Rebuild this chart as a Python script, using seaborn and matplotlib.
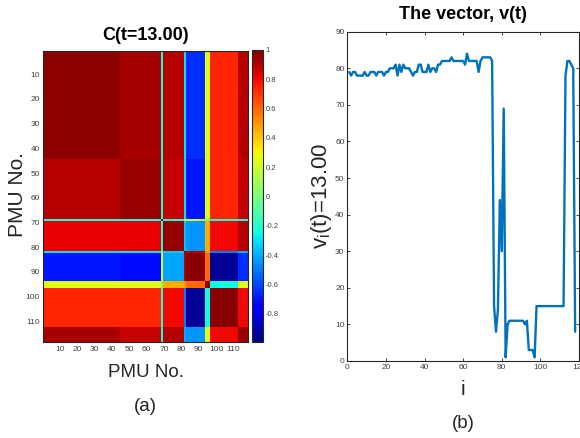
import numpy as np
import pandas as pd
import matplotlib
matplotlib.use("Agg")
import matplotlib.pyplot as plt
import seaborn as sns

# ---- data -------------------------------------------------------------
# PMU groups (sizes in PMU order 1..118) and the correlation between groups
group_labels = ["1-44", "45-68", "69", "70-81", "82", "83-93", "94-96", "97-112", "113-118"]
group_sizes = [44, 24, 1, 12, 1, 11, 3, 16, 6]
block_corr = [
    [0.97, 0.93, -0.24, 0.90, -0.30, -0.65, 0.25, 0.74, 0.90],
    [0.90, 0.95, -0.24, 0.88, -0.30, -0.70, 0.25, 0.74, 0.88],
    [-0.24, -0.24, 1.00, -0.24, 0.20, 0.20, 0.00, -0.24, -0.24],
    [0.82, 0.82, -0.24, 0.96, -0.35, -0.45, 0.45, 0.80, 0.90],
    [-0.30, -0.30, 0.20, -0.35, 1.00, 0.90, 0.50, -0.50, -0.40],
    [-0.70, -0.72, 0.20, -0.42, 0.90, 0.98, 0.60, -0.95, -0.65],
    [0.25, 0.25, 0.00, 0.45, 0.50, 0.60, 0.98, -0.25, 0.25],
    [0.74, 0.74, -0.24, 0.80, -0.50, -0.95, -0.25, 0.98, 0.80],
    [0.93, 0.88, -0.24, 0.90, -0.40, -0.45, 0.25, 0.80, 0.95],
]

# v_i(t) at t = 13.00, one value per PMU
v_values = [79, 78, 79, 79, 78, 78, 78, 78, 79, 78,
            78, 79, 79, 79, 78, 79, 79, 79, 78, 79,
            79, 80, 80, 80, 81, 78, 81, 79, 81, 80,
            80, 80, 79, 78, 79, 79, 81, 81, 79, 79,
            79, 81, 79, 80, 80, 79, 81, 81, 82, 82,
            82, 82, 82, 83, 82, 82, 82, 82, 82, 82,
            81, 84, 82, 82, 82, 82, 82, 79, 82, 83,
            83, 83, 83, 83, 82, 15, 8, 14, 44, 30,
            69, 1, 10, 11, 11, 11, 11, 11, 11, 11,
            11, 10, 11, 3, 3, 3, 1, 15, 15, 15,
            15, 15, 15, 15, 15, 15, 15, 15, 15, 15,
            15, 15, 78, 82, 82, 81, 80, 8]

heat_ticks = [10, 20, 30, 40, 50, 60, 70, 80, 90, 100, 110]
cbar_ticks = [-0.8, -0.6, -0.4, -0.2, 0, 0.2, 0.4, 0.6, 0.8, 1]
line_xticks = [0, 20, 40, 60, 80, 100, 120]
line_yticks = [0, 10, 20, 30, 40, 50, 60, 70, 80, 90]

# ---- build matrix -----------------------------------------------------
pmu = np.arange(1, 119)
member = np.repeat(np.arange(len(group_sizes)), group_sizes)
corr = np.array(block_corr)[member][:, member]
corr_df = pd.DataFrame(corr, index=pmu, columns=pmu)

# ---- style ------------------------------------------------------------
sns.set_theme(style="ticks")
plt.rcParams["font.family"] = ["Liberation Sans", "DejaVu Sans"]
tick_col = "#404040"
text_col = "#262626"

fig = plt.figure(figsize=(5.8, 4.38), dpi=100)
ax1 = fig.add_axes([0.0747, 0.2185, 0.3534, 0.6658])
cax = fig.add_axes([0.435, 0.2199, 0.019, 0.666])
ax2 = fig.add_axes([0.5988, 0.1758, 0.3995, 0.7518])

# ---- (a) correlation heatmap -----------------------------------------
sns.heatmap(corr_df, ax=ax1, cmap="jet", vmin=-0.99, vmax=1,
            cbar_ax=cax, xticklabels=False, yticklabels=False, linewidths=0)
ax1.set_xticks(np.array(heat_ticks) - 0.5)
ax1.set_xticklabels([str(t) for t in heat_ticks])
ax1.set_yticks(np.array(heat_ticks) - 0.5)
ax1.set_yticklabels([str(t) for t in heat_ticks], rotation=0)
ax1.set_xlabel("")
ax1.set_ylabel("")
for s in ax1.spines.values():
    s.set_visible(True)
    s.set_color("#262626")
    s.set_linewidth(0.8)
ax1.tick_params(direction="in", length=2.5, width=0.6, labelsize=6,
                top=True, right=True, colors="#262626", labelcolor=tick_col, pad=2.5)
ax1.set_title("C(t=13.00)", fontsize=13, fontweight="bold", color="black", pad=8)

cbar = ax1.collections[0].colorbar
cbar.set_ticks(cbar_ticks)
cbar.set_ticklabels(["%g" % t for t in cbar_ticks])
cbar.outline.set_edgecolor("#262626")
cbar.outline.set_linewidth(0.8)
cax.tick_params(direction="in", length=2, width=0.6, labelsize=5.5,
                colors="#262626", labelcolor=tick_col, pad=1.5)

fig.text(0.2517, 0.149, "PMU No.", fontsize=13.5, color=text_col, ha="center", va="center")
fig.text(0.031, 0.555, "PMU No.", fontsize=15, color=text_col, ha="center", va="center",
         rotation=90)
fig.text(0.25, 0.0715, "(a)", fontsize=13.5, color=text_col, ha="center", va="center")

# ---- (b) vector v(t) ---------------------------------------------------
sns.lineplot(x=pmu, y=v_values, ax=ax2, color="#0072BD", linewidth=1.7)
ax2.set_xlim(0, 120)
ax2.set_ylim(0, 90)
ax2.set_xticks(line_xticks)
ax2.set_yticks(line_yticks)
ax2.set_xlabel("")
ax2.set_ylabel("")
for s in ax2.spines.values():
    s.set_visible(True)
    s.set_color("#262626")
    s.set_linewidth(0.8)
ax2.tick_params(direction="in", length=2.5, width=0.6, labelsize=6,
                top=True, right=True, colors="#262626", labelcolor=tick_col, pad=2)
ax2.set_title("The vector, v(t)", fontsize=13, fontweight="bold", color="black", pad=9)

fig.text(0.555, 0.5525, r"v$_\mathregular{i}$(t)=13.00", fontsize=16, color=text_col,
         ha="center", va="center", rotation=90)
fig.text(0.798, 0.1096, "i", fontsize=15, color=text_col, ha="center", va="center")
fig.text(0.798, 0.0336, "(b)", fontsize=13.5, color=text_col, ha="center", va="center")

fig.savefig("out.png", dpi=100)
